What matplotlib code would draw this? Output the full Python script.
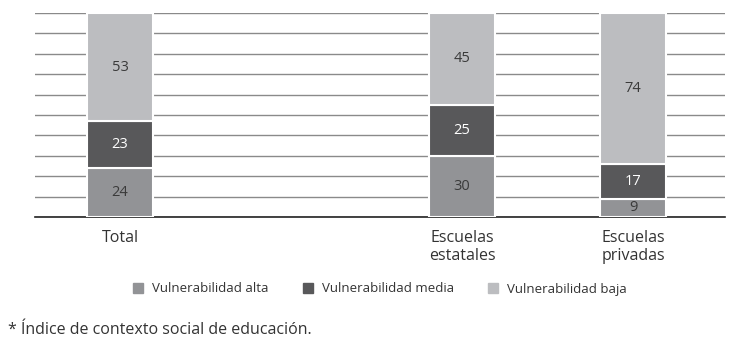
import matplotlib
matplotlib.use('Agg')
import matplotlib.pyplot as plt
import matplotlib.patches as mpatches

categories = ["Total", "", "Escuelas\nestatales", "Escuelas\nprivadas"]
alta  = [24, 0, 30, 9]
media = [23, 0, 25, 17]
baja  = [53, 0, 45, 74]
series_names = ["Vulnerabilidad alta", "Vulnerabilidad media", "Vulnerabilidad baja"]
colors = ["#929396", "#58585a", "#bcbdc0"]

plt.rcParams['font.family'] = ['Open Sans', 'DejaVu Sans']

fig = plt.figure(figsize=(7.37, 3.43), dpi=100)
ax = fig.add_axes([35/737, 1 - 217/343, 690/737, 204/343])

x = list(range(len(categories)))
w = 0.386
bottom = [0] * len(x)
for vals, col, txtcol in zip([alta, media, baja], colors, ["#3a3a3a", "white", "#3a3a3a"]):
    for i in x:
        if vals[i] == 0:
            continue
        ax.bar(i, vals[i], w, bottom=bottom[i], color=col,
               edgecolor='white', linewidth=1.5, zorder=3)
        ax.text(i, bottom[i] + vals[i] / 2, str(vals[i]), ha='center', va='center',
                fontsize=10.5, color=txtcol, zorder=4)
    bottom = [b + v for b, v in zip(bottom, vals)]

ax.set_xlim(-0.497, 3.538)
ax.set_ylim(0, 100)
ax.set_yticks(range(0, 101, 10))
ax.set_yticklabels([])
ax.tick_params(axis='y', length=0)
ax.tick_params(axis='x', length=0, pad=9, labelsize=11.5, labelcolor='#333333')
ax.set_xticks([0, 2, 3])
ax.set_xticklabels([categories[0], categories[2], categories[3]], linespacing=1.25)
ax.grid(axis='y', color='#8a8a8a', linewidth=1.0, zorder=0)
for s in ['top', 'right', 'left']:
    ax.spines[s].set_visible(False)
ax.spines['bottom'].set_color('#222222')
ax.spines['bottom'].set_linewidth(1.2)

handles = [mpatches.Patch(color=c, label=n) for c, n in zip(colors, series_names)]
fig.legend(handles=handles, loc='center', bbox_to_anchor=(380/737, 1 - 289/343),
           ncol=3, frameon=False, fontsize=9.5, handlelength=0.75, handleheight=0.75,
           columnspacing=2.6, handletextpad=0.7, labelcolor='#333333')

fig.text(8/737, 1 - 330/343, "* Índice de contexto social de educación.",
         fontsize=11.5, color='#333333', va='center', ha='left')

fig.savefig("out.png", dpi=100)
